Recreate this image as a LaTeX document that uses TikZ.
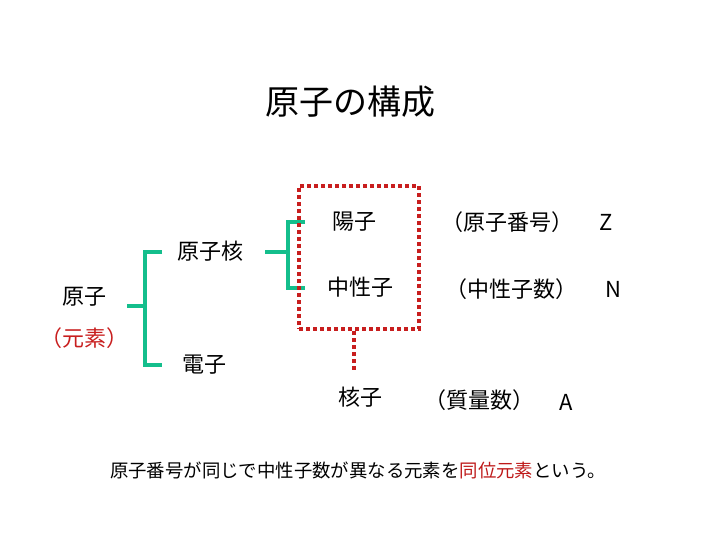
\documentclass[tikz,border=0pt]{standalone}
\usepackage{fontspec}
\setmainfont{Noto Sans CJK JP}
\definecolor{midori}{RGB}{20,190,140}
\definecolor{aka}{RGB}{200,30,30}
\definecolor{koiaka}{RGB}{190,25,25}
\begin{document}
\begin{tikzpicture}[x=1pt,y=-1pt,
        moji/.style={inner sep=0pt, font=\fontsize{22}{26}\selectfont},
        bun/.style={inner sep=0pt, font=\fontsize{18.4}{22}\selectfont},
        kakko/.style={draw=midori, line width=4pt},
        tensen/.style={draw=aka, line width=4pt, dash pattern=on 4pt off 3pt},
        waku/.style={tensen, minimum width=120pt, minimum height=143pt, inner sep=0pt}
    ]
        \useasboundingbox (0,0) rectangle (720,540);

        \node[inner sep=0pt, font=\fontsize{34}{40}\selectfont] (title) at (350,102) {原子の構成};

        \node[moji] (genshi) at (84,297) {原子};
        \node[moji, text=aka] (genso) at (84,338) {（元素）};
        \node[moji] (kaku) at (210,251) {原子核};
        \node[moji] (denshi) at (204,365) {電子};

        \coordinate (g0) at (127,306);
        \coordinate (g1) at (145,306);
        \coordinate (g2) at (162,252);
        \coordinate (g3) at (162,365);
        \draw[kakko] (g0) -- (g1);
        \draw[kakko] (g2) -| (g1) |- (g3);

        \coordinate (k0) at (265,252);
        \coordinate (k1) at (288,252);
        \coordinate (k2) at (305,222);
        \coordinate (k3) at (305,288);
        \draw[kakko] (k0) -- (k1);
        \draw[kakko] (k2) -| (k1) |- (k3);

        \node[waku] (wakubox) at (359,257.5) {};
        \node[moji] (yoshi) at (354,222) {陽子};
        \node[moji] (chuseishi) at (360,287) {中性子};
        \node[moji] (kakushi) at (360,397) {核子};

        \coordinate (t1) at (354,370);
        \draw[tensen] (wakubox.south -| t1) -- (t1);

        \node[moji] (bango) at (507,222) {（原子番号）};
        \node[moji] (Z) at (606,222) {Z};
        \node[moji] (chusu) at (511,289) {（中性子数）};
        \node[moji] (N) at (613,289) {N};
        \node[moji] (shitsu) at (479,400) {（質量数）};
        \node[moji] (A) at (566,402) {A};

        \node[bun] (setsumei) at (358,470)
        {原子番号が同じで中性子数が異なる元素を\textcolor{koiaka}{同位元素}という。};
    \end{tikzpicture}
\end{document}
